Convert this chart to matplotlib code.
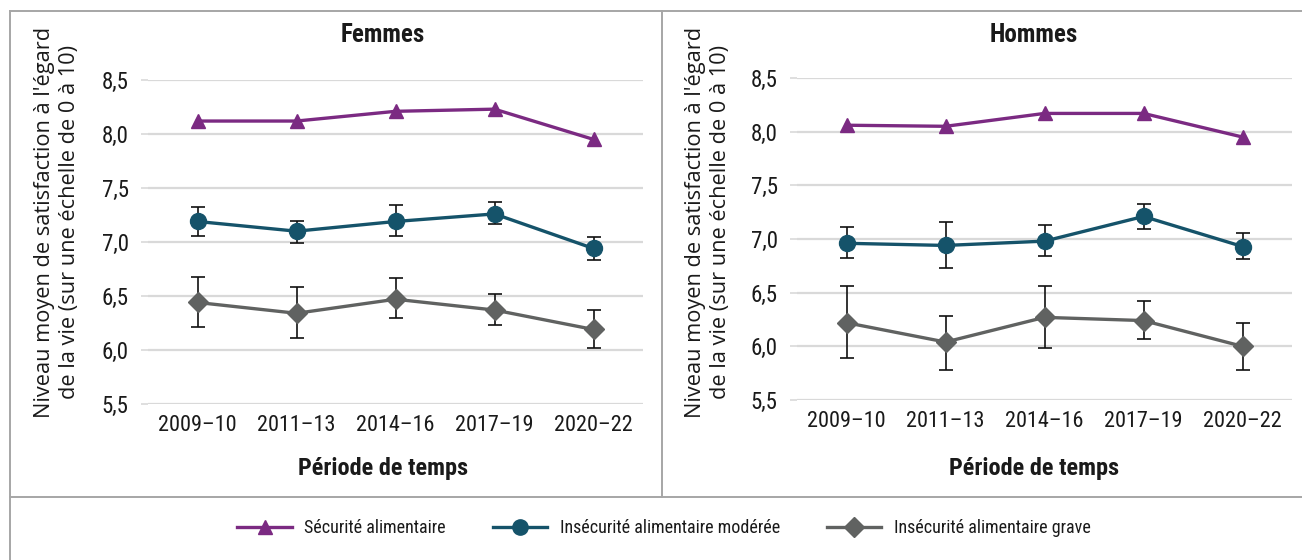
import matplotlib
matplotlib.use("Agg")
import matplotlib.pyplot as plt
from matplotlib.lines import Line2D
import numpy as np

periods = ["2009–10", "2011–13", "2014–16", "2017–19", "2020–22"]
series_names = ["Sécurité alimentaire", "Insécurité alimentaire modérée", "Insécurité alimentaire grave"]

# Femmes
f_secure = [8.12, 8.12, 8.21, 8.23, 7.95]
f_moderate = [7.19, 7.10, 7.19, 7.26, 6.94]
f_moderate_lo = [7.06, 6.99, 7.06, 7.17, 6.83]
f_moderate_hi = [7.32, 7.19, 7.34, 7.37, 7.05]
f_severe = [6.44, 6.34, 6.47, 6.37, 6.19]
f_severe_lo = [6.21, 6.11, 6.30, 6.23, 6.02]
f_severe_hi = [6.68, 6.58, 6.67, 6.52, 6.37]

# Hommes
h_secure = [8.06, 8.05, 8.17, 8.17, 7.95]
h_moderate = [6.96, 6.94, 6.98, 7.21, 6.93]
h_moderate_lo = [6.82, 6.73, 6.84, 7.09, 6.81]
h_moderate_hi = [7.11, 7.16, 7.13, 7.33, 7.06]
h_severe = [6.22, 6.04, 6.27, 6.24, 6.00]
h_severe_lo = [5.89, 5.78, 5.98, 6.07, 5.78]
h_severe_hi = [6.56, 6.28, 6.56, 6.42, 6.22]

yticks = [5.5, 6.0, 6.5, 7.0, 7.5, 8.0, 8.5]
ytick_labels = ["5,5", "6,0", "6,5", "7,0", "7,5", "8,0", "8,5"]

ylabel = "Niveau moyen de satisfaction à l'égard\nde la vie (sur une échelle de 0 à 10)"
xlabel = "Période de temps"

C_SEC = "#7B2A82"
C_MOD = "#15536A"
C_SEV = "#606261"
GRID = "#D9D9D9"
BORDER = "#A6A6A6"
TXT = "#1A1A1A"

COND = ["Roboto Condensed", "Liberation Sans Narrow", "Roboto", "DejaVu Sans"]
YLF = ["Open Sans", "Noto Sans", "Liberation Sans", "DejaVu Sans"]
plt.rcParams["font.family"] = COND

W, H = 1302, 560
fig = plt.figure(figsize=(W / 100, H / 100), dpi=100)

def fx(x):
    return x / W

def fy(y):
    return 1 - y / H

def panel(rect, title, cx, ylx, sec, mod, mlo, mhi, sev, slo, shi):
    ax = fig.add_axes(rect)
    x = np.arange(len(periods))
    ax.set_xlim(-0.5, len(periods) - 0.5)
    ax.set_ylim(5.5, 8.5)
    ax.set_yticks(yticks)
    ax.set_yticklabels(ytick_labels)
    ax.yaxis.grid(True, color=GRID, linewidth=1.6)
    ax.set_axisbelow(True)
    for s in ax.spines.values():
        s.set_visible(False)
    ax.tick_params(axis="y", color=GRID, length=5, width=1.2, pad=9, labelsize=16.5, labelcolor=TXT)
    ax.tick_params(axis="x", length=0, pad=8, labelsize=16, labelcolor=TXT)
    ax.set_xticks(x)
    ax.set_xticklabels(periods)
    mod = np.array(mod); sev = np.array(sev)
    ax.errorbar(x, mod, yerr=[mod - np.array(mlo), np.array(mhi) - mod], fmt="none",
                ecolor="#111111", elinewidth=1.2, capsize=5, capthick=1.2, zorder=2)
    ax.errorbar(x, sev, yerr=[sev - np.array(slo), np.array(shi) - sev], fmt="none",
                ecolor="#111111", elinewidth=1.2, capsize=5, capthick=1.2, zorder=2)
    ax.plot(x, sec, color=C_SEC, lw=2.4, marker="^", ms=10.5, zorder=3, clip_on=False)
    ax.plot(x, mod, color=C_MOD, lw=2.4, marker="o", ms=11.5, zorder=3, clip_on=False)
    ax.plot(x, sev, color=C_SEV, lw=2.4, marker="D", ms=10, zorder=3, clip_on=False)
    fig.text(fx(cx), fy(35), title, fontsize=18, fontweight="bold", ha="center", va="center", color=TXT)
    fig.text(fx(cx), fy(468), xlabel, fontsize=17.5, fontweight="bold", ha="center", va="center", color=TXT)
    fig.text(fx(ylx), fy(222), ylabel, fontsize=15.7, rotation=90, ha="center", va="center",
             multialignment="center", linespacing=1.25, family=YLF, fontweight="medium", color=TXT)
    return ax

axL = panel([fx(148), fy(404), fx(495), (404 - 80) / H], "Femmes", 383, 57,
            f_secure, f_moderate, f_moderate_lo, f_moderate_hi, f_severe, f_severe_lo, f_severe_hi)
axR = panel([fx(797), fy(400), fx(495), (400 - 78) / H], "Hommes", 1034, 708,
            h_secure, h_moderate, h_moderate_lo, h_moderate_hi, h_severe, h_severe_lo, h_severe_hi)

# borders
for (x0, y0, x1, y1) in [(10, 11, 1302, 11), (10, 11, 10, 560),
                         (10, 497, 1302, 497), (662, 11, 662, 497)]:
    fig.add_artist(Line2D([fx(x0), fx(x1)], [fy(y0), fy(y1)], color=BORDER, lw=1.4))

handles = [
    Line2D([], [], color=C_SEC, lw=2.4, marker="^", ms=10),
    Line2D([], [], color=C_MOD, lw=2.4, marker="o", ms=11),
    Line2D([], [], color=C_SEV, lw=2.4, marker="D", ms=10),
]
leg = fig.legend(handles, series_names, loc="center", bbox_to_anchor=(fx(664), fy(528)), ncol=3,
                 frameon=False, handlelength=3.0, columnspacing=2.6, handletextpad=0.7,
                 prop={"family": COND, "size": 13})
for t in leg.get_texts():
    t.set_color(TXT)

fig.savefig("out.png", dpi=100)
